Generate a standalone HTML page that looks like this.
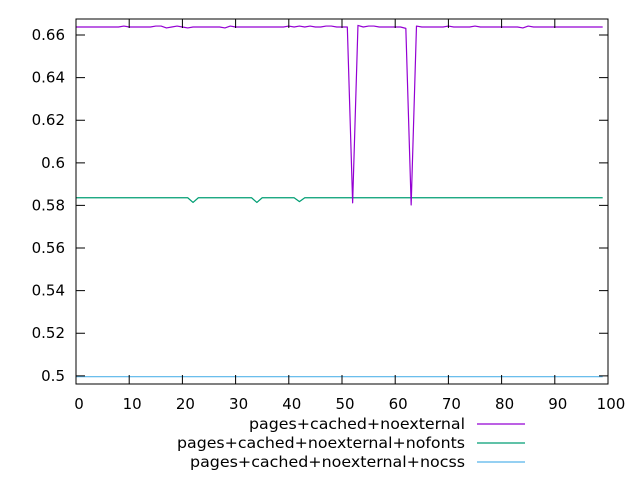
<!DOCTYPE html>
<html><head><meta charset="utf-8"><style>
html,body{margin:0;padding:0;background:#fff}
svg{display:block;font-family:"DejaVu Sans","Liberation Sans",sans-serif}
</style></head><body>
<svg id="chart" width="640" height="480" viewBox="0 0 640 480">
<rect x="0" y="0" width="640" height="480" fill="#fff"/>
<g id="grid"></g><g id="series"></g>
<rect x="76" y="19" width="532" height="365" fill="none" stroke="#000" stroke-width="1"/>
<g id="axes"></g><g id="legend"></g>
</svg>
<script>
const xTicks=[0,10,20,30,40,50,60,70,80,90,100];
const yTicks=[0.5,0.52,0.54,0.56,0.58,0.6,0.62,0.64,0.66];
const yTickLabels=["0.5","0.52","0.54","0.56","0.58","0.6","0.62","0.64","0.66"];
const seriesNames=["pages+cached+noexternal","pages+cached+noexternal+nofonts","pages+cached+noexternal+nocss"];
const seriesColors=["#9400d3","#009e73","#56b4e9"];
const noexternal=[0.66375,0.66375,0.66375,0.66375,0.66375,0.66375,0.66375,0.66375,0.66375,0.6642,
0.66375,0.66375,0.66375,0.66375,0.66375,0.6642,0.6642,0.6633,0.66375,0.6642,
0.66375,0.6633,0.66375,0.66375,0.66375,0.66375,0.66375,0.66375,0.6633,0.6642,
0.66375,0.66375,0.66375,0.66375,0.66375,0.66375,0.66375,0.66375,0.66375,0.66375,
0.6642,0.66375,0.6642,0.66375,0.6642,0.66375,0.66375,0.6642,0.6642,0.66375,
0.66375,0.66375,0.5812,0.6645,0.66375,0.6642,0.6642,0.66375,0.66375,0.66375,
0.66375,0.66375,0.6631,0.5802,0.6642,0.66375,0.66375,0.66375,0.66375,0.66375,
0.6642,0.66375,0.66375,0.66375,0.66375,0.6642,0.66375,0.66375,0.66375,0.66375,
0.66375,0.66375,0.66375,0.66375,0.6633,0.6642,0.66375,0.66375,0.66375,0.66375,
0.66375,0.66375,0.66375,0.66375,0.66375,0.66375,0.66375,0.66375,0.66375,0.66375];
const nofonts=[0.5836,0.5836,0.5836,0.5836,0.5836,0.5836,0.5836,0.5836,0.5836,0.5836,
0.5836,0.5836,0.5836,0.5836,0.5836,0.5836,0.5836,0.5836,0.5836,0.5836,
0.5836,0.5836,0.5814,0.5836,0.5836,0.5836,0.5836,0.5836,0.5836,0.5836,
0.5836,0.5836,0.5836,0.5836,0.5814,0.5836,0.5836,0.5836,0.5836,0.5836,
0.5836,0.5836,0.5818,0.5836,0.5836,0.5836,0.5836,0.5836,0.5836,0.5836,
0.5836,0.5836,0.5836,0.5836,0.5836,0.5836,0.5836,0.5836,0.5836,0.5836,
0.5836,0.5836,0.5836,0.5836,0.5836,0.5836,0.5836,0.5836,0.5836,0.5836,
0.5836,0.5836,0.5836,0.5836,0.5836,0.5836,0.5836,0.5836,0.5836,0.5836,
0.5836,0.5836,0.5836,0.5836,0.5836,0.5836,0.5836,0.5836,0.5836,0.5836,
0.5836,0.5836,0.5836,0.5836,0.5836,0.5836,0.5836,0.5836,0.5836,0.5836];
const nocss=[0.4996,0.4996,0.4996,0.4996,0.4996,0.4996,0.4996,0.4996,0.4996,0.4996,
0.4996,0.4996,0.4996,0.4996,0.4996,0.4996,0.4996,0.4996,0.4996,0.4996,
0.4996,0.4996,0.4996,0.4996,0.4996,0.4996,0.4996,0.4996,0.4996,0.4996,
0.4996,0.4996,0.4996,0.4996,0.4996,0.4996,0.4996,0.4996,0.4996,0.4996,
0.4996,0.4996,0.4996,0.4996,0.4996,0.4996,0.4996,0.4996,0.4996,0.4996,
0.4996,0.4996,0.4996,0.4996,0.4996,0.4996,0.4996,0.4996,0.4996,0.4996,
0.4996,0.4996,0.4996,0.4996,0.4996,0.4996,0.4996,0.4996,0.4996,0.4996,
0.4996,0.4996,0.4996,0.4996,0.4996,0.4996,0.4996,0.4996,0.4996,0.4996,
0.4996,0.4996,0.4996,0.4996,0.4996,0.4996,0.4996,0.4996,0.4996,0.4996,
0.4996,0.4996,0.4996,0.4996,0.4996,0.4996,0.4996,0.4996,0.4996,0.4996];

const NS="http://www.w3.org/2000/svg";
const L=76,R=608,T=19,B=384;
const X0=0,X1=100,Y0=0.49617,Y1=0.66751;
function xs(v){return L+(v-X0)/(X1-X0)*(R-L);}
function ys(v){return B-(v-Y0)/(Y1-Y0)*(B-T);}
function mk(tag,attrs,parent){const e=document.createElementNS(NS,tag);for(const k in attrs)e.setAttribute(k,attrs[k]);parent.appendChild(e);return e;}
const axes=document.getElementById('axes');
xTicks.forEach(t=>{
  const x=xs(t);
  const tb=mk('path',{d:`M${x},${B}v-9M${x},${T}v9`,stroke:'#000','stroke-width':1},axes);
  
  
  const lb=mk('text',{x:x+3,y:409,'text-anchor':'middle','font-size':'15px',fill:'#000'},axes);
  lb.textContent=String(t);
  
  
});
yTicks.forEach((t,i)=>{
  const y=ys(t);
  const tk=mk('path',{d:`M${L},${y}h9M${R},${y}h-9`,stroke:'#000','stroke-width':1},axes);
  
  
  const lb=mk('text',{x:65,y:y+5,'text-anchor':'end','font-size':'15px',fill:'#000'},axes);
  lb.textContent=yTickLabels[i];
  
  
});
const sg=document.getElementById('series');
const allSeries=[noexternal,nofonts,nocss];
const order=[2,1,0];
order.forEach(si=>{
  const d=allSeries[si].map((v,i)=>(i?'L':'M')+xs(i).toFixed(2)+','+ys(v).toFixed(2)).join('');
  const p=mk('path',{d:d,fill:'none',stroke:seriesColors[si],'stroke-width':1.2,'stroke-linejoin':'round'},sg);
  
  
});
const lg=document.getElementById('legend');
const legendY=[424,443,462];
const legendW=[216,288,275];
seriesNames.forEach((n,i)=>{
  const t=mk('text',{x:465-legendW[i],y:legendY[i]+5,'font-size':'15px',fill:'#000',textLength:legendW[i],lengthAdjust:'spacingAndGlyphs'},lg);
  t.textContent=n;
  
  
  const l=mk('line',{x1:477,x2:525,y1:legendY[i],y2:legendY[i],stroke:seriesColors[i],'stroke-width':1.2},lg);
  
  
});
</script>
</body></html>
